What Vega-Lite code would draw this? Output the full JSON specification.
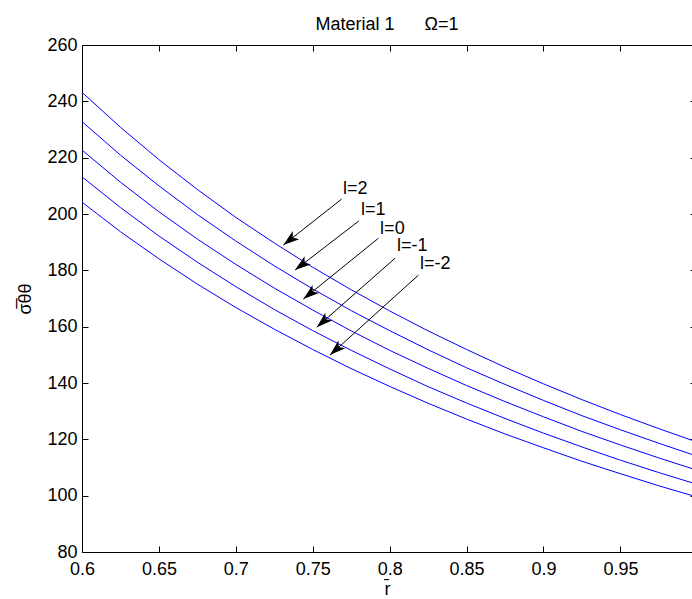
{
  "$schema": "https://vega.github.io/schema/vega-lite/v6.json",
  "width": 610,
  "height": 507,
  "autosize": {"type": "none"},
  "padding": {"left": 82, "top": 45, "right": 0, "bottom": 47},
  "background": "white",
  "title": {"text": "Material 1\u00a0\u00a0\u00a0\u00a0\u00a0\u00a0Ω=1", "font": "Liberation Sans", "fontSize": 18, "fontWeight": "normal", "color": "#000", "anchor": "middle", "baseline": "alphabetic", "offset": -12, "frame": "group"},
  "config": {
    "view": {"stroke": null},
    "axis": {"labelFont": "Liberation Sans", "labelFontSize": 18, "labelColor": "#000", "titleFont": "Liberation Sans", "titleFontSize": 18, "titleFontWeight": "normal", "titleColor": "#000", "domainColor": "#000", "tickColor": "#000", "grid": false, "tickSize": -6, "domainWidth": 1, "tickWidth": 1, "labelFlush": false, "labelOverlap": false}
  },
  "datasets": {
    "curves": [
      {"l": "2", "r": 0.6, "s": 243.2}, {"l": "2", "r": 0.625, "s": 230.8}, {"l": "2", "r": 0.65, "s": 219.3}, {"l": "2", "r": 0.675, "s": 208.7}, {"l": "2", "r": 0.7, "s": 198.8}, {"l": "2", "r": 0.725, "s": 189.7}, {"l": "2", "r": 0.75, "s": 181.1}, {"l": "2", "r": 0.775, "s": 173.1}, {"l": "2", "r": 0.8, "s": 165.6}, {"l": "2", "r": 0.825, "s": 158.5}, {"l": "2", "r": 0.85, "s": 151.9}, {"l": "2", "r": 0.875, "s": 145.6}, {"l": "2", "r": 0.9, "s": 139.7}, {"l": "2", "r": 0.925, "s": 134.1}, {"l": "2", "r": 0.95, "s": 128.8}, {"l": "2", "r": 0.975, "s": 123.8}, {"l": "2", "r": 1.0, "s": 119.0},
      {"l": "1", "r": 0.6, "s": 232.8}, {"l": "1", "r": 0.625, "s": 220.9}, {"l": "1", "r": 0.65, "s": 210.0}, {"l": "1", "r": 0.675, "s": 199.8}, {"l": "1", "r": 0.7, "s": 190.4}, {"l": "1", "r": 0.725, "s": 181.6}, {"l": "1", "r": 0.75, "s": 173.4}, {"l": "1", "r": 0.775, "s": 165.7}, {"l": "1", "r": 0.8, "s": 158.6}, {"l": "1", "r": 0.825, "s": 151.8}, {"l": "1", "r": 0.85, "s": 145.4}, {"l": "1", "r": 0.875, "s": 139.5}, {"l": "1", "r": 0.9, "s": 133.8}, {"l": "1", "r": 0.925, "s": 128.4}, {"l": "1", "r": 0.95, "s": 123.4}, {"l": "1", "r": 0.975, "s": 118.6}, {"l": "1", "r": 1.0, "s": 114.0},
      {"l": "0", "r": 0.6, "s": 222.7}, {"l": "0", "r": 0.625, "s": 211.3}, {"l": "0", "r": 0.65, "s": 200.8}, {"l": "0", "r": 0.675, "s": 191.1}, {"l": "0", "r": 0.7, "s": 182.1}, {"l": "0", "r": 0.725, "s": 173.7}, {"l": "0", "r": 0.75, "s": 165.9}, {"l": "0", "r": 0.775, "s": 158.5}, {"l": "0", "r": 0.8, "s": 151.6}, {"l": "0", "r": 0.825, "s": 145.2}, {"l": "0", "r": 0.85, "s": 139.1}, {"l": "0", "r": 0.875, "s": 133.4}, {"l": "0", "r": 0.9, "s": 128.0}, {"l": "0", "r": 0.925, "s": 122.8}, {"l": "0", "r": 0.95, "s": 118.0}, {"l": "0", "r": 0.975, "s": 113.4}, {"l": "0", "r": 1.0, "s": 109.0},
      {"l": "-1", "r": 0.6, "s": 213.2}, {"l": "-1", "r": 0.625, "s": 202.3}, {"l": "-1", "r": 0.65, "s": 192.2}, {"l": "-1", "r": 0.675, "s": 182.9}, {"l": "-1", "r": 0.7, "s": 174.2}, {"l": "-1", "r": 0.725, "s": 166.1}, {"l": "-1", "r": 0.75, "s": 158.6}, {"l": "-1", "r": 0.775, "s": 151.6}, {"l": "-1", "r": 0.8, "s": 145.0}, {"l": "-1", "r": 0.825, "s": 138.7}, {"l": "-1", "r": 0.85, "s": 132.9}, {"l": "-1", "r": 0.875, "s": 127.4}, {"l": "-1", "r": 0.9, "s": 122.2}, {"l": "-1", "r": 0.925, "s": 117.3}, {"l": "-1", "r": 0.95, "s": 112.6}, {"l": "-1", "r": 0.975, "s": 108.2}, {"l": "-1", "r": 1.0, "s": 104.0},
      {"l": "-2", "r": 0.6, "s": 204.2}, {"l": "-2", "r": 0.625, "s": 193.7}, {"l": "-2", "r": 0.65, "s": 184.1}, {"l": "-2", "r": 0.675, "s": 175.1}, {"l": "-2", "r": 0.7, "s": 166.8}, {"l": "-2", "r": 0.725, "s": 159.1}, {"l": "-2", "r": 0.75, "s": 151.9}, {"l": "-2", "r": 0.775, "s": 145.1}, {"l": "-2", "r": 0.8, "s": 138.8}, {"l": "-2", "r": 0.825, "s": 132.8}, {"l": "-2", "r": 0.85, "s": 127.2}, {"l": "-2", "r": 0.875, "s": 121.9}, {"l": "-2", "r": 0.9, "s": 117.0}, {"l": "-2", "r": 0.925, "s": 112.2}, {"l": "-2", "r": 0.95, "s": 107.8}, {"l": "-2", "r": 0.975, "s": 103.5}, {"l": "-2", "r": 1.0, "s": 99.5}
    ],
    "arrows": [
      {"lab": "l=2", "x1": 0.7688, "y1": 205.3, "x2": 0.7309, "y2": 189.0, "ang": 231.7, "lx": 0.7697, "ly": 208.9},
      {"lab": "l=1", "x1": 0.7799, "y1": 197.5, "x2": 0.7385, "y2": 180.1, "ang": 232.4, "lx": 0.7814, "ly": 201.4},
      {"lab": "l=0", "x1": 0.7927, "y1": 191.4, "x2": 0.7439, "y2": 169.8, "ang": 231.0, "lx": 0.7938, "ly": 194.8},
      {"lab": "l=-1", "x1": 0.8035, "y1": 184.3, "x2": 0.7526, "y2": 159.8, "ang": 228.6, "lx": 0.8048, "ly": 188.8},
      {"lab": "l=-2", "x1": 0.8187, "y1": 178.3, "x2": 0.7612, "y2": 149.9, "ang": 227.8, "lx": 0.8198, "ly": 182.4}
    ]
  },
  "layer": [
    {
      "data": {"name": "curves"},
      "mark": {"type": "line", "color": "#0000ff", "strokeWidth": 1, "clip": true},
      "encoding": {
        "x": {"field": "r", "type": "quantitative", "scale": {"domain": [0.6, 0.99655]},
          "axis": {"orient": "bottom", "values": [0.6, 0.65, 0.7, 0.75, 0.8, 0.85, 0.9, 0.95], "format": "~g", "labelPadding": 14, "title": "r\u0304", "titlePadding": 2}},
        "y": {"field": "s", "type": "quantitative", "scale": {"domain": [80, 260], "zero": false},
          "axis": {"orient": "left", "values": [80, 100, 120, 140, 160, 180, 200, 220, 240, 260], "labelPadding": 11, "title": "σ\u0305θθ", "titlePadding": 12}},
        "detail": {"field": "l", "type": "nominal"}
      }
    },
    {
      "data": {"name": "arrows"},
      "mark": {"type": "rule", "color": "#000", "strokeWidth": 1},
      "encoding": {
        "x": {"field": "x1", "type": "quantitative", "scale": {"domain": [0.6, 0.99655]},
          "axis": {"orient": "top", "values": [0.6, 0.65, 0.7, 0.75, 0.8, 0.85, 0.9, 0.95], "labels": false, "title": null}},
        "y": {"field": "y1", "type": "quantitative", "scale": {"domain": [80, 260], "zero": false},
          "axis": {"orient": "right", "values": [80, 100, 120, 140, 160, 180, 200, 220, 240, 260], "labels": false, "domain": false, "title": null, "tickSize": -2}},
        "x2": {"field": "x2"},
        "y2": {"field": "y2"}
      }
    },
    {
      "data": {"name": "arrows"},
      "mark": {"type": "point", "shape": "M0,0 L0.65,2 L0,1.5 L-0.65,2 Z", "filled": true, "color": "#000", "size": 256, "opacity": 1, "strokeWidth": 0},
      "encoding": {
        "x": {"field": "x2", "type": "quantitative", "scale": {"domain": [0.6, 0.99655]}, "axis": null},
        "y": {"field": "y2", "type": "quantitative", "scale": {"domain": [80, 260], "zero": false}, "axis": null},
        "angle": {"field": "ang", "type": "quantitative", "scale": null}
      }
    },
    {
      "data": {"name": "arrows"},
      "mark": {"type": "text", "align": "left", "baseline": "middle", "font": "Liberation Sans", "fontSize": 18, "color": "#000"},
      "encoding": {
        "x": {"field": "lx", "type": "quantitative", "scale": {"domain": [0.6, 0.99655]}, "axis": null},
        "y": {"field": "ly", "type": "quantitative", "scale": {"domain": [80, 260], "zero": false}, "axis": null},
        "text": {"field": "lab"}
      }
    }
  ]
}
